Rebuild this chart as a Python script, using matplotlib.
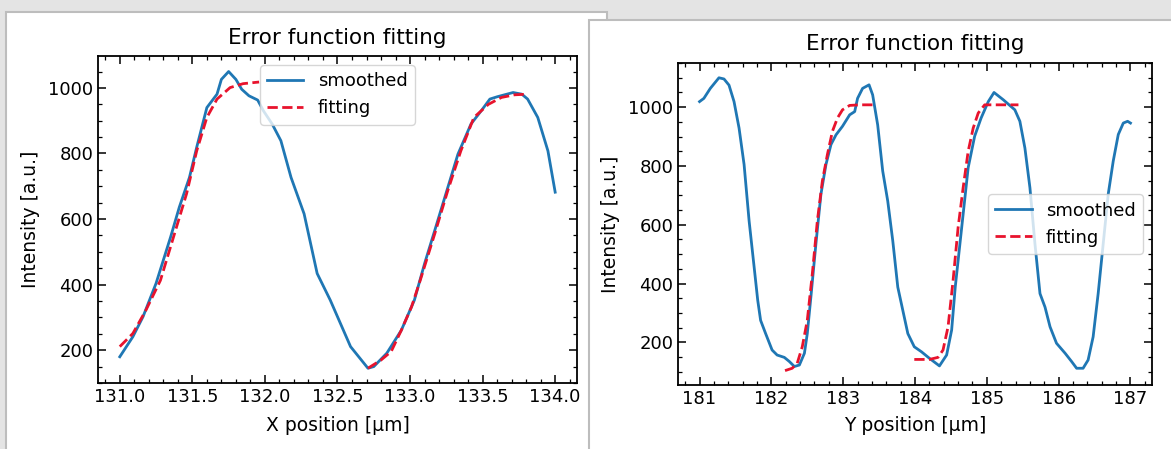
import numpy as np
import matplotlib
matplotlib.use('Agg')
import matplotlib.pyplot as plt
from matplotlib.patches import Rectangle
from matplotlib.ticker import MultipleLocator

# X scan (left panel)
x_smooth = [131.00, 131.09, 131.16, 131.25, 131.35, 131.41, 131.48, 131.53, 131.60, 131.67,
            131.70, 131.75, 131.80, 131.84, 131.89, 131.95, 131.99, 132.05, 132.11, 132.18,
            132.27, 132.36, 132.45, 132.59, 132.71, 132.75, 132.84, 132.94, 133.03, 133.10,
            133.17, 133.24, 133.33, 133.42, 133.49, 133.55, 133.60, 133.71, 133.77, 133.81,
            133.88, 133.95, 134.00]
y_smooth = [180, 241, 302, 404, 545, 636, 727, 819, 940, 981,
            1026, 1050, 1026, 996, 976, 963, 930, 890, 839, 727,
            616, 434, 353, 211, 145, 150, 191, 261, 353, 464,
            565, 667, 798, 890, 930, 966, 973, 986, 981, 966,
            910, 808, 682]

x_fit = [131.00, 131.09, 131.18, 131.28, 131.37, 131.46, 131.53, 131.60, 131.67, 131.76,
         131.85, 131.96, np.nan,
         132.71, 132.80, 132.87, 132.94, 133.01, 133.07, 133.17, 133.26, 133.35, 133.44,
         133.54, 133.63, 133.72, 133.81]
y_fit = [211, 251, 322, 413, 545, 677, 808, 910, 966, 1001,
         1013, 1018, np.nan,
         145, 170, 196, 261, 332, 413, 555, 687, 808, 910,
         950, 971, 979, 981]

# Y scan (right panel)
yx_smooth = [181.00, 181.06, 181.15, 181.27, 181.34, 181.41, 181.48, 181.55, 181.62, 181.69,
             181.76, 181.81, 181.85, 181.92, 182.01, 182.08, 182.18, 182.25, 182.32, 182.39,
             182.46, 182.50, 182.55, 182.62, 182.69, 182.76, 182.83, 182.90, 182.99, 183.09,
             183.16, 183.20, 183.27, 183.36, 183.41, 183.48, 183.55, 183.62, 183.69, 183.76,
             183.83, 183.90, 183.99, 184.09, 184.20, 184.34, 184.44, 184.51, 184.56, 184.67,
             184.74, 184.83, 184.92, 185.02, 185.10, 185.23, 185.39, 185.46, 185.53, 185.60,
             185.67, 185.74, 185.81, 185.88, 185.97, 186.09, 186.18, 186.25, 186.34, 186.41,
             186.48, 186.55, 186.62, 186.69, 186.76, 186.83, 186.90, 186.96, 187.00]
yy_smooth = [1019, 1030, 1064, 1100, 1096, 1075, 1019, 929, 805, 613,
             456, 343, 275, 230, 174, 157, 149, 135, 118, 123,
             163, 230, 354, 535, 704, 805, 873, 906, 935, 974,
             985, 1030, 1064, 1076, 1042, 940, 783, 681, 546, 388,
             309, 230, 185, 168, 146, 120, 157, 242, 388, 636,
             794, 901, 963, 1019, 1050, 1025, 991, 952, 861, 726,
             535, 366, 320, 253, 197, 163, 135, 112, 112, 140,
             219, 366, 535, 704, 817, 907, 946, 952, 946]

yx_fit = [182.19, 182.29, 182.36, 182.43, 182.50, 182.57, 182.64, 182.71, 182.78, 182.85,
          182.92, 182.99, 183.09, 183.23, 183.43, np.nan,
          183.99, 184.20, 184.32, 184.39, 184.46, 184.53, 184.60, 184.67, 184.74, 184.81,
          184.88, 184.97, 185.13, 185.44]
yy_fit = [104, 112, 129, 185, 275, 433, 613, 749, 839, 918,
          963, 991, 1006, 1008, 1008, np.nan,
          142, 142, 149, 174, 253, 411, 591, 726, 850, 929,
          980, 1008, 1008, 1008]

BLUE = '#1f77b4'
RED = '#e8132d'

fig = plt.figure(figsize=(11.71, 4.49), dpi=100, facecolor='#e4e4e4')

# the two screenshot panels (behind the axes)
fig.patches.append(Rectangle((6 / 1171, -0.05), 601 / 1171, 1.05 - 12 / 449,
                             transform=fig.transFigure, facecolor='white',
                             edgecolor='#bdbdbd', lw=1.5, zorder=-2))
fig.patches.append(Rectangle((589 / 1171, -0.05), 590 / 1171, 1.05 - 20 / 449,
                             transform=fig.transFigure, facecolor='white',
                             edgecolor='#bdbdbd', lw=1.5, zorder=-1))


def style_axes(ax, xmajor, xminor):
    ax.set_facecolor('white')
    ax.xaxis.set_major_locator(MultipleLocator(xmajor))
    ax.xaxis.set_minor_locator(MultipleLocator(xminor))
    ax.yaxis.set_major_locator(MultipleLocator(200))
    ax.yaxis.set_minor_locator(MultipleLocator(50))
    ax.tick_params(which='both', direction='in', top=True, right=True, labelsize=13)
    ax.tick_params(which='major', length=6, width=1.1)
    ax.tick_params(which='minor', length=3, width=0.9)
    for s in ax.spines.values():
        s.set_linewidth(1.3)


ax1 = fig.add_axes([0.0837, 0.147, 0.409, 0.728])
ax1.plot(x_smooth, y_smooth, color=BLUE, lw=2, label='smoothed')
ax1.plot(x_fit, y_fit, color=RED, lw=2, ls='--', label='fitting')
ax1.set_xlim(130.85, 134.15)
ax1.set_ylim(100, 1097)
style_axes(ax1, 0.5, 0.1)
ax1.xaxis.set_major_formatter(matplotlib.ticker.FormatStrFormatter('%.1f'))
ax1.set_title('Error function fitting', fontsize=15.5, pad=8.5)
ax1.set_xlabel('X position [µm]', fontsize=13.5, labelpad=7)
ax1.set_ylabel('Intensity [a.u.]', fontsize=13.5, labelpad=6)
ax1.legend(loc='upper center', fontsize=13)

ax2 = fig.add_axes([0.579, 0.1425, 0.4048, 0.717])
ax2.plot(yx_smooth, yy_smooth, color=BLUE, lw=2, label='smoothed')
ax2.plot(yx_fit, yy_fit, color=RED, lw=2, ls='--', label='fitting')
ax2.set_xlim(180.7, 187.3)
ax2.set_ylim(55, 1150)
style_axes(ax2, 1, 0.2)
ax2.set_title('Error function fitting', fontsize=15.5, pad=9.5)
ax2.set_xlabel('Y position [µm]', fontsize=13.5, labelpad=6)
ax2.set_ylabel('Intensity [a.u.]', fontsize=13.5, labelpad=6)
ax2.legend(loc='center right', fontsize=13)

fig.savefig('out.png', dpi=100, facecolor=fig.get_facecolor())
